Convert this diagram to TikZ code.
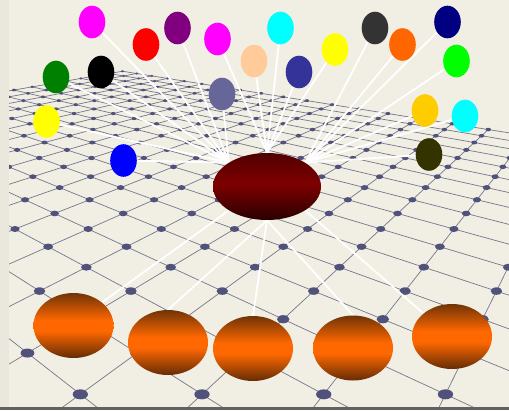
\documentclass[tikz,border=0pt]{standalone}
\usetikzlibrary{shapes.geometric}
\definecolor{paper}{RGB}{241,238,228}
\definecolor{paperedge}{RGB}{234,231,220}
\definecolor{gridline}{RGB}{118,118,140}
\definecolor{griddot}{RGB}{80,82,124}
\definecolor{otop}{RGB}{112,52,6}
\definecolor{omid}{RGB}{255,104,0}
\definecolor{obot}{RGB}{100,44,6}
\definecolor{rtop}{RGB}{80,0,0}
\definecolor{rmid}{RGB}{126,0,0}
\definecolor{rbot}{RGB}{42,0,0}
\definecolor{cmagenta}{RGB}{255,0,255}
\definecolor{cred}{RGB}{255,0,0}
\definecolor{cpurple}{RGB}{128,0,128}
\definecolor{cpeach}{RGB}{255,204,153}
\definecolor{cgreen}{RGB}{0,128,0}
\definecolor{cblack}{RGB}{0,0,0}
\definecolor{cyellow}{RGB}{255,255,0}
\definecolor{cslate}{RGB}{102,102,153}
\definecolor{cblue}{RGB}{0,0,255}
\definecolor{ccyan}{RGB}{0,255,255}
\definecolor{cindigo}{RGB}{51,51,153}
\definecolor{cdgray}{RGB}{51,51,51}
\definecolor{corange}{RGB}{255,102,0}
\definecolor{cnavy}{RGB}{0,0,128}
\definecolor{clime}{RGB}{0,255,0}
\definecolor{cgold}{RGB}{255,204,0}
\definecolor{colive}{RGB}{51,51,0}
\pgfdeclareverticalshading{orangeball}{100bp}{color(0bp)=(obot); color(25bp)=(obot); color(46bp)=(omid); color(54bp)=(omid); color(75bp)=(otop); color(100bp)=(otop)}
\pgfdeclareverticalshading{redball}{100bp}{color(0bp)=(rbot); color(25bp)=(rbot); color(52bp)=(rmid); color(75bp)=(rtop); color(100bp)=(rtop)}
\pgfmathdeclarefunction{gx}{2}{\pgfmathparse{100+550*(0.0665*((#1)+(#2))-0.1545)/(1-0.0665*((#1)-(#2)))}}
\pgfmathdeclarefunction{gy}{2}{\pgfmathparse{-20+249/(1-0.0665*((#1)-(#2)))}}
\pgfmathdeclarefunction{gs}{2}{\pgfmathparse{1/(1-0.0665*((#1)-(#2)))}}
\pgfdeclarelayer{bg}
\pgfsetlayers{bg,main}
\tikzset{
  gridpen/.style={draw=gridline, line width=0.7pt},
  hubnode/.style={ellipse, shade, shading=redball, minimum width=108pt, minimum height=67pt, inner sep=0pt},
  obal/.style={ellipse, shade, shading=orangeball, minimum width=80pt, minimum height=65pt, inner sep=0pt},
  balloon/.style={ellipse, fill=#1, minimum width=26.6pt, minimum height=32.6pt, inner sep=0pt},
  link/.style={draw=white, line width=1.8pt}
}
\begin{document}
\begin{tikzpicture}[x=1pt,y=-1pt]
\useasboundingbox (0,0) rectangle (509,410);
\begin{pgfonlayer}{bg}
\fill[paper] (0,0) rectangle (509,410);
\fill[paperedge] (0,0) rectangle (9,410);
\begin{scope}
\clip (9,0) rectangle (509,407);
\foreach \q in {-5,...,15}{
  \pgfmathtruncatemacro\pe{min(10,\q+8)}
  \draw[gridpen] ({gx(-11,\q)},{gy(-11,\q)}) -- ({gx(\pe,\q)},{gy(\pe,\q)});
}
\foreach \p in {-11,...,10}{
  \pgfmathtruncatemacro\qs{max(-5,\p-8)}
  \draw[gridpen] ({gx(\p,\qs)},{gy(\p,\qs)}) -- ({gx(\p,15)},{gy(\p,15)});
}
\foreach \p in {-11,...,10}{
  \pgfmathtruncatemacro\qs{max(-5,\p-8)}
  \foreach \q in {\qs,...,15}{
    \fill[griddot] ({gx(\p,\q)},{gy(\p,\q)}) ellipse [x radius={4.6*gs(\p,\q)}, y radius={3.0*gs(\p,\q)}];
  }
}
\end{scope}
\fill[black!62] (0,407) rectangle (509,410);
\end{pgfonlayer}

% hub and lower ellipses
\node[hubnode] (C) at (267,186.5) {};
\node[obal] (O1) at (73.5,325.5) {};
\node[obal] (O2) at (168,342.5) {};
\node[obal] (O3) at (253,348.5) {};
\node[obal] (O4) at (353,348) {};
\node[obal] (O5) at (452,336.5) {};

% balloons
\node[balloon=cmagenta] (b1) at (92,22) {};
\node[balloon=cred] (b2) at (146,44.5) {};
\node[balloon=cpurple] (b3) at (177.5,28) {};
\node[balloon=cmagenta] (b4) at (217.5,39) {};
\node[balloon=cpeach] (b5) at (254,61) {};
\node[balloon=cgreen] (b6) at (56,77) {};
\node[balloon=cblack] (b7) at (101,72) {};
\node[balloon=cyellow] (b8) at (46.5,121.5) {};
\node[balloon=cslate] (b9) at (222,94) {};
\node[balloon=cblue] (b10) at (123.5,160.5) {};
\node[balloon=ccyan] (b11) at (280.5,28) {};
\node[balloon=cindigo] (b12) at (299,72) {};
\node[balloon=cyellow] (b13) at (335,49.5) {};
\node[balloon=cdgray] (b14) at (375,28) {};
\node[balloon=corange] (b15) at (402.5,44.5) {};
\node[balloon=cnavy] (b16) at (447.5,22) {};
\node[balloon=clime] (b17) at (456.5,61) {};
\node[balloon=cgold] (b18) at (425,110.5) {};
\node[balloon=ccyan] (b19) at (465,116) {};
\node[balloon=colive] (b20) at (429,154.5) {};

\begin{pgfonlayer}{bg}
\foreach \b in {b1,b2,b3,b6,b7,b8,b9,b10}{\draw[link] (\b) -- (C.148);}
\foreach \b in {b4,b5,b11,b12,b13}{\draw[link] (\b) -- (C.90);}
\foreach \b in {b14,b15,b16,b17,b18,b19,b20}{\draw[link] (\b) -- (C.32);}
\draw[link] (C.212) -- (O1.39);
\draw[link] (C.270) -- (O2.90);
\draw[link] (C.270) -- (O3.90);
\draw[link] (C.270) -- (O4.90);
\draw[link] (C.328) -- (O5.141);
\end{pgfonlayer}
\end{tikzpicture}
\end{document}
